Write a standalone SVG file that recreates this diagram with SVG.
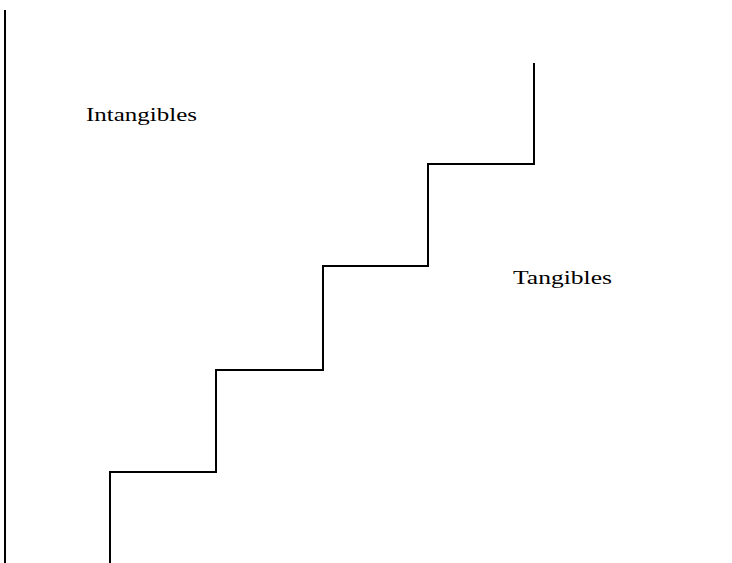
<svg xmlns="http://www.w3.org/2000/svg" width="732" height="563" viewBox="0 0 732 563">
<style>
.ln{fill:none;stroke:#000;stroke-width:2}
.lb{font-family:"Liberation Serif","Times New Roman",serif;font-size:18px;fill:#000}
</style>
<rect width="732" height="563" fill="#fff"/>
<g id="connectors">
<line class="ln" x1="5" y1="10" x2="5" y2="563"/>
<polyline class="ln" points="110,563 110,472 216,472 216,370 323,370 323,266 428,266 428,164 534,164 534,63"/>
</g>
<g id="intangibles"><text class="lb" x="86" y="121" textLength="111" lengthAdjust="spacingAndGlyphs">Intangibles</text></g>
<g id="tangibles"><text class="lb" x="513" y="284" textLength="99" lengthAdjust="spacingAndGlyphs">Tangibles</text></g>
</svg>
